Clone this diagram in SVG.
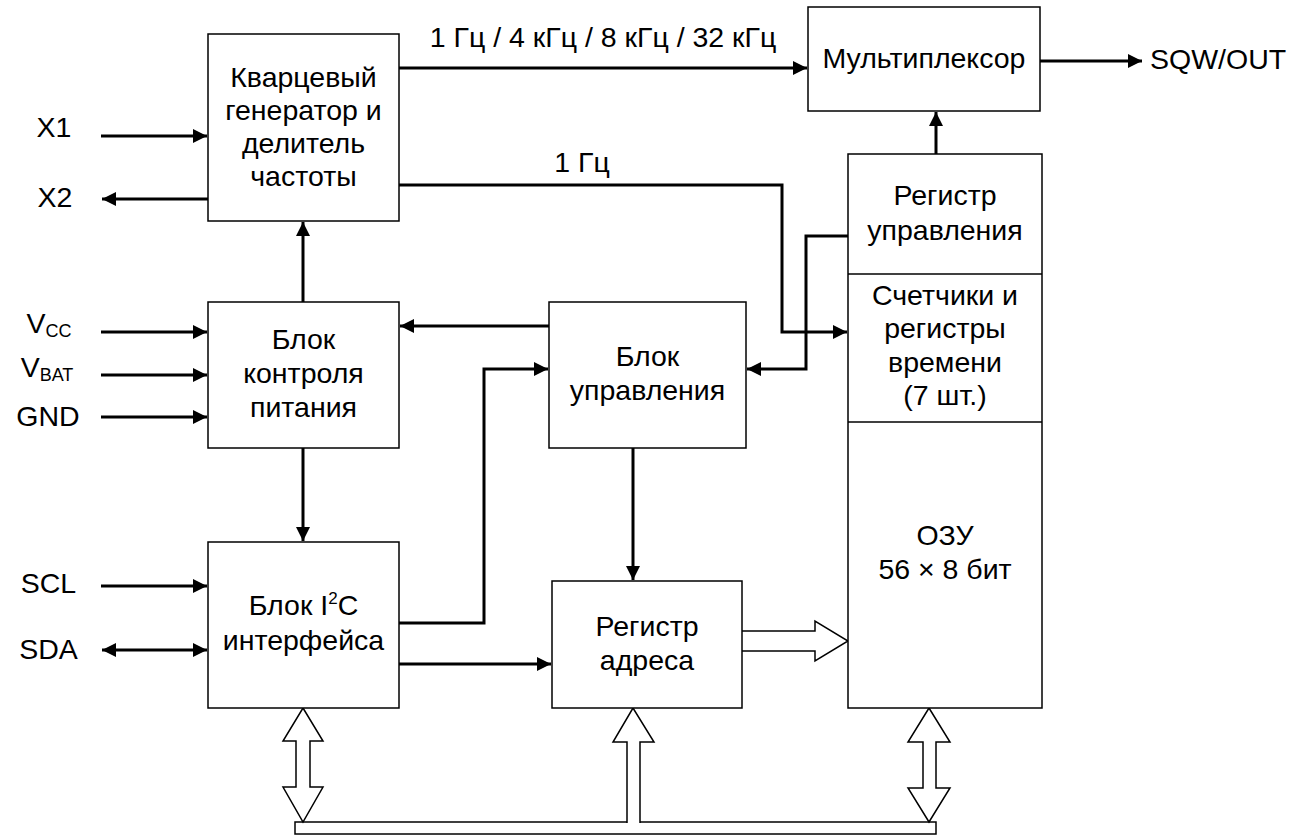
<svg xmlns="http://www.w3.org/2000/svg" width="1294" height="835" viewBox="0 0 1294 835">
<defs>
<style>
.box{fill:#fff;stroke:#000;stroke-width:1.5}
.t{font-family:"Liberation Sans",Arial,sans-serif;font-size:28.5px;fill:#000;text-anchor:middle}
.tl{font-family:"Liberation Sans",Arial,sans-serif;font-size:28.5px;fill:#000}
.c{fill:none;stroke:#000;stroke-width:3}
.bus{fill:#fff;stroke:#000;stroke-width:1.5;stroke-linejoin:miter}
</style>
<marker id="ah" viewBox="0 0 14 14" refX="14" refY="7" markerWidth="14" markerHeight="14" markerUnits="userSpaceOnUse" orient="auto-start-reverse">
<path d="M0,0 L14,7 L0,14 z" fill="#000"/>
</marker>
</defs>
<rect width="1294" height="835" fill="#fff"/>

<g id="connectors">
<path class="c" d="M101,136 H207" marker-end="url(#ah)"/>
<path class="c" d="M208,199 H102" marker-end="url(#ah)"/>
<path class="c" d="M101,332 H207" marker-end="url(#ah)"/>
<path class="c" d="M101,375 H207" marker-end="url(#ah)"/>
<path class="c" d="M101,417 H207" marker-end="url(#ah)"/>
<path class="c" d="M101,586 H207" marker-end="url(#ah)"/>
<path class="c" d="M102,650 H207" marker-start="url(#ah)" marker-end="url(#ah)"/>
<path class="c" d="M303,302 V222" marker-end="url(#ah)"/>
<path class="c" d="M303,448 V541" marker-end="url(#ah)"/>
<path class="c" d="M399,68 H807" marker-end="url(#ah)"/>
<path class="c" d="M399,185 H782 V332 H847" marker-end="url(#ah)"/>
<path class="c" d="M936,154 V112" marker-end="url(#ah)"/>
<path class="c" d="M1040,61 H1142" marker-end="url(#ah)"/>
<path class="c" d="M549,326 H400" marker-end="url(#ah)"/>
<path class="c" d="M848,236 H806 V369 H747" marker-end="url(#ah)"/>
<path class="c" d="M399,623 H484 V369 H548" marker-end="url(#ah)"/>
<path class="c" d="M399,664 H551" marker-end="url(#ah)"/>
<path class="c" d="M633,448 V580" marker-end="url(#ah)"/>
<rect class="bus" x="295" y="822" width="641" height="12"/>
<path class="bus" d="M742,631 H815 V621 L848,641 L815,661 V651 H742"/>
<path class="bus" d="M303,708 L323,741 H310 V787 H323 L303,822 L283,787 H296 V741 H283 Z"/>
<path class="bus" d="M627,823 V742 H613 L633,708 L654,742 H640 V823"/>
<path class="bus" d="M929,708 L950,742 H936 V788 H950 L929,822 L908,788 H923 V742 H908 Z"/>
</g>

<g id="gen">
<rect class="box" x="208" y="34" width="191" height="187"/>
<text class="t" x="303.5" y="87">Кварцевый</text>
<text class="t" x="303.5" y="120">генератор и</text>
<text class="t" x="303.5" y="153">делитель</text>
<text class="t" x="303.5" y="186">частоты</text>
</g>

<g id="mux">
<rect class="box" x="808" y="7" width="232" height="104"/>
<text class="t" x="924" y="68">Мультиплексор</text>
</g>

<g id="right-block">
<rect class="box" x="848" y="154" width="194" height="554"/>
<line x1="848" y1="274" x2="1042" y2="274" stroke="#000" stroke-width="1.5"/>
<line x1="848" y1="422" x2="1042" y2="422" stroke="#000" stroke-width="1.5"/>
<text class="t" x="945" y="205">Регистр</text>
<text class="t" x="945" y="240">управления</text>
<text class="t" x="945" y="305">Счетчики и</text>
<text class="t" x="945" y="338">регистры</text>
<text class="t" x="945" y="372">времени</text>
<text class="t" x="945" y="405">(7 шт.)</text>
<text class="t" x="945" y="545">ОЗУ</text>
<text class="t" x="945" y="579">56 × 8 бит</text>
</g>

<g id="power">
<rect class="box" x="208" y="302" width="191" height="146"/>
<text class="t" x="303.5" y="349">Блок</text>
<text class="t" x="303.5" y="383">контроля</text>
<text class="t" x="303.5" y="417">питания</text>
</g>

<g id="ctrl">
<rect class="box" x="549" y="302" width="197" height="146"/>
<text class="t" x="647.5" y="366">Блок</text>
<text class="t" x="647.5" y="400">управления</text>
</g>

<g id="i2c">
<rect class="box" x="208" y="542" width="191" height="166"/>
<text class="t" x="303.5" y="615">Блок I<tspan font-size="17" dy="-11">2</tspan><tspan dy="11">C</tspan></text>
<text class="t" x="303.5" y="650">интерфейса</text>
</g>

<g id="addr">
<rect class="box" x="552" y="581" width="190" height="127"/>
<text class="t" x="647" y="636">Регистр</text>
<text class="t" x="647" y="670">адреса</text>
</g>

<g id="labels">
<text class="t" x="54" y="137">X1</text>
<text class="t" x="55" y="207">X2</text>
<text class="t" x="49" y="333">V<tspan font-size="18" dy="4">CC</tspan></text>
<text class="t" x="47" y="377">V<tspan font-size="18" dy="4">BAT</tspan></text>
<text class="t" x="48" y="426">GND</text>
<text class="t" x="48.5" y="593">SCL</text>
<text class="t" x="48.5" y="659">SDA</text>
<text class="t" x="603" y="47">1 Гц / 4 кГц / 8 кГц / 32 кГц</text>
<text class="t" x="582" y="172">1 Гц</text>
<text class="tl" x="1150" y="69">SQW/OUT</text>
</g>
</svg>
